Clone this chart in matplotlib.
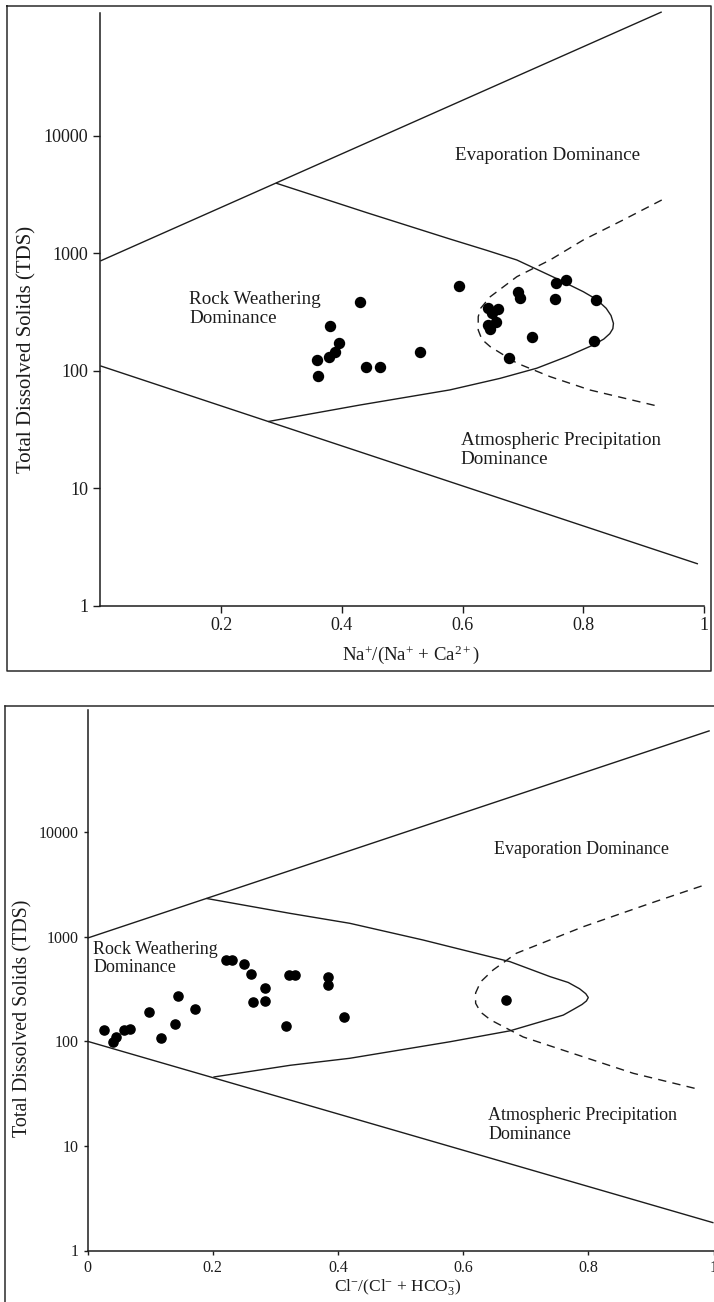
import matplotlib
matplotlib.use("Agg")
import matplotlib.pyplot as plt
from matplotlib.lines import Line2D
from matplotlib.ticker import FixedLocator, FixedFormatter, NullLocator

plt.rcParams["font.family"] = ["Liberation Serif", "DejaVu Serif"]
plt.rcParams["mathtext.fontset"] = "custom"
plt.rcParams["mathtext.rm"] = "Liberation Serif"
plt.rcParams["mathtext.it"] = "Liberation Serif:italic"

INK = "#1c1c1c"

# ---------------- Panel A: cations ----------------
na_ratio = [0.431, 0.381, 0.395, 0.388, 0.379, 0.359, 0.361, 0.440, 0.464, 0.530,
            0.594, 0.692, 0.695, 0.755, 0.771, 0.753, 0.821, 0.642, 0.658, 0.649,
            0.642, 0.655, 0.645, 0.715, 0.817, 0.677]
na_tds = [387, 240, 173, 143, 131, 123, 91, 107, 107, 144,
          530, 471, 419, 562, 593, 408, 398, 340, 337, 312,
          245, 258, 225, 194, 178, 129]

a_upper_x = [0.0, 0.930]
a_upper_tds = [860, 113800]
a_lower_x = [0.0, 0.990]
a_lower_tds = [110, 2.26]
a_curve_x = [0.291, 0.443, 0.579, 0.640, 0.690, 0.755, 0.800, 0.822, 0.838, 0.846,
             0.850, 0.849, 0.844, 0.834, 0.817, 0.773, 0.723, 0.662, 0.579, 0.430,
             0.278]
a_curve_tds = [3960, 2205, 1324, 1060, 877, 612, 471, 405, 340, 295,
               253, 228, 207, 186, 166, 132, 105, 86, 68.6, 51,
               36.9]
a_dash_x = [0.930, 0.866, 0.800, 0.745, 0.690, 0.646, 0.630, 0.626, 0.626, 0.632,
            0.646, 0.690, 0.745, 0.811, 0.927]
a_dash_tds = [2845, 1922, 1298, 877, 632, 427, 340, 288, 222, 185,
              160, 116, 89, 68.5, 49.4]

# ---------------- Panel B: anions ----------------
cl_ratio = [0.026, 0.041, 0.046, 0.059, 0.068, 0.099, 0.117, 0.139, 0.144, 0.172,
            0.221, 0.231, 0.250, 0.261, 0.265, 0.284, 0.284, 0.317, 0.322, 0.331,
            0.384, 0.384, 0.410, 0.668]
cl_tds = [128, 99, 109, 128, 132, 192, 108, 145, 273, 204,
          599, 599, 548, 440, 236, 323, 243, 141, 428, 428,
          415, 345, 171, 248]

b_upper_x = [0.0, 0.994]
b_upper_tds = [970, 93200]
b_lower_x = [0.0, 1.0]
b_lower_tds = [100, 1.84]
b_curve_x = [0.190, 0.323, 0.419, 0.536, 0.579, 0.675, 0.739, 0.768, 0.786, 0.796,
             0.800, 0.797, 0.790, 0.777, 0.760, 0.675, 0.579, 0.419, 0.324, 0.201]
b_curve_tds = [2321, 1674, 1343, 930, 802, 577, 415, 365, 318, 285,
               262, 243, 225, 203, 178, 126, 99, 68.8, 59, 45.5]
b_dash_x = [0.981, 0.899, 0.792, 0.685, 0.648, 0.628, 0.620, 0.620, 0.628, 0.644,
            0.696, 0.792, 0.872, 0.976]
b_dash_tds = [3053, 2085, 1246, 694, 481, 370, 290, 231, 190, 160,
              110, 71, 49.4, 34.8]

y_ticks = [1, 10, 100, 1000, 10000]
y_tick_labels = ["1", "10", "100", "1000", "10000"]
a_x_ticks = [0.2, 0.4, 0.6, 0.8, 1.0]
a_x_tick_labels = ["0.2", "0.4", "0.6", "0.8", "1"]
b_x_ticks = [0.0, 0.2, 0.4, 0.6, 0.8, 1.0]
b_x_tick_labels = ["0", "0.2", "0.4", "0.6", "0.8", "1"]

W, H = 714, 1302
fig = plt.figure(figsize=(W / 100, H / 100), dpi=100)


def rect(left, top, right, bottom):
    return [left / W, 1 - bottom / H, (right - left) / W, (bottom - top) / H]


def style_axes(ax, ytop, xticks, xlabels, fs, tick_len):
    ax.set_yscale("log")
    ax.set_xlim(0, 1)
    ax.set_ylim(1, ytop)
    for s in ("top", "right"):
        ax.spines[s].set_visible(False)
    for s in ("left", "bottom"):
        ax.spines[s].set_color(INK)
        ax.spines[s].set_linewidth(1.1)
    ax.yaxis.set_major_locator(FixedLocator(y_ticks))
    ax.yaxis.set_major_formatter(FixedFormatter(y_tick_labels))
    ax.yaxis.set_minor_locator(NullLocator())
    ax.xaxis.set_major_locator(FixedLocator(xticks))
    ax.xaxis.set_major_formatter(FixedFormatter(xlabels))
    ax.tick_params(axis="both", direction="out", length=tick_len, width=1.0,
                   color=INK, labelcolor=INK, labelsize=fs, pad=3.5)
    ax.patch.set_alpha(0)


def draw_diagram(ax, ux, uy, lx, ly, cx, cy, dx, dy, px, py, msize):
    kw = dict(color=INK, lw=1.0, clip_on=False, solid_capstyle="butt",
              solid_joinstyle="round")
    ax.plot(ux, uy, **kw)
    ax.plot(lx, ly, **kw)
    ax.plot(cx, cy, **kw)
    ax.plot(dx, dy, color=INK, lw=1.0, linestyle=(0, (6, 4.5)), clip_on=False)
    ax.plot(px, py, linestyle="none", marker="o", markersize=msize,
            markerfacecolor="black", markeredgecolor="black", zorder=5)


# Panel A
ax1 = fig.add_axes(rect(100.3, 13, 704, 605.5))
style_axes(ax1, 10 ** ((605.5 - 13) / 117.4), a_x_ticks, a_x_tick_labels, 13, 5)
draw_diagram(ax1, a_upper_x, a_upper_tds, a_lower_x, a_lower_tds,
             a_curve_x, a_curve_tds, a_dash_x, a_dash_tds, na_ratio, na_tds, 7.2)
tkw = dict(color=INK, fontsize=13.7, linespacing=1.1, va="center", ha="left")
ax1.text(0.588, 6870, "Evaporation Dominance", **tkw)
ax1.text(0.147, 335, "Rock Weathering\nDominance", **tkw)
ax1.text(0.597, 21.1, "Atmospheric Precipitation\nDominance", **tkw)
fig.text(27 / W, 1 - 349 / H, "Total Dissolved Solids (TDS)", rotation=90,
         ha="center", va="center", fontsize=15, color=INK)
fig.text(411 / W, 1 - 655 / H, r"Na$^{+}$/(Na$^{+}$ + Ca$^{2+}$)",
         ha="center", va="center", fontsize=13.5, color=INK)

# Panel B
ax2 = fig.add_axes(rect(87.5, 710, 713.5, 1250.5))
style_axes(ax2, 10 ** ((1250.5 - 710) / 104.6), b_x_ticks, b_x_tick_labels, 11.5, 3)
draw_diagram(ax2, b_upper_x, b_upper_tds, b_lower_x, b_lower_tds,
             b_curve_x, b_curve_tds, b_dash_x, b_dash_tds, cl_ratio, cl_tds, 6.6)
tkw2 = dict(color=INK, fontsize=13, linespacing=1.1, va="center", ha="left")
ax2.text(0.650, 6890, "Evaporation Dominance", **tkw2)
ax2.text(0.0093, 615, "Rock Weathering\nDominance", **tkw2)
ax2.text(0.640, 15.8, "Atmospheric Precipitation\nDominance", **tkw2)
fig.text(23 / W, 1 - 1018 / H, "Total Dissolved Solids (TDS)", rotation=90,
         ha="center", va="center", fontsize=14.4, color=INK)
fig.text(398 / W, 1 - 1287 / H, r"Cl$^{-}$/(Cl$^{-}$ + HCO$_{3}^{-}$)",
         ha="center", va="center", fontsize=12.5, color=INK)

# Panel frames
fkw = dict(color="#2a2a2a", lw=1.1, transform=fig.transFigure)
x0, x1 = 7 / W, 711 / W
y0, y1 = 1 - 671 / H, 1 - 6 / H
fig.add_artist(Line2D([x0, x1, x1, x0, x0], [y1, y1, y0, y0, y1], **fkw))
bx0, by1 = 5 / W, 1 - 706 / H
fig.add_artist(Line2D([bx0, bx0], [0, by1], **fkw))
fig.add_artist(Line2D([bx0, 1.0], [by1, by1], **fkw))

fig.savefig("out.png", dpi=100, facecolor="white")
